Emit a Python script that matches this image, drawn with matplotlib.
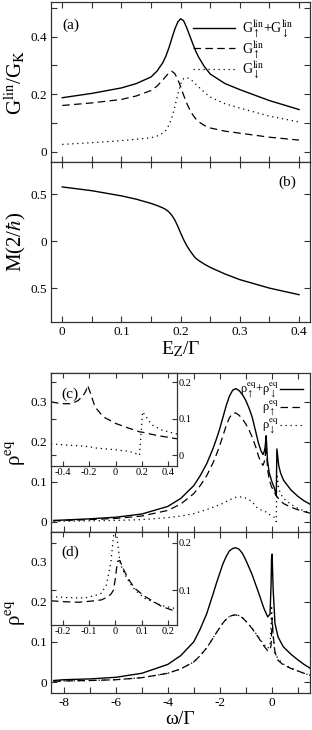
import matplotlib.pyplot as plt
from matplotlib.ticker import MultipleLocator

plt.rcParams['font.family'] = ['Liberation Serif', 'DejaVu Serif']
plt.rcParams['mathtext.fontset'] = 'stix'
plt.rcParams['axes.unicode_minus'] = False

# ---- panel (a): linear conductance vs Zeeman energy ----
E_A = [0, 0.05, 0.1, 0.125, 0.15, 0.16, 0.17, 0.175, 0.18, 0.185, 0.19, 0.195, 0.2,
       0.205, 0.21, 0.215, 0.22, 0.225, 0.23, 0.24, 0.25, 0.275, 0.3, 0.35, 0.4]
G_TOT = [0.188, 0.203, 0.222, 0.237, 0.26, 0.28, 0.31, 0.332, 0.36, 0.393, 0.425, 0.45,
         0.462, 0.455, 0.432, 0.405, 0.378, 0.352, 0.33, 0.296, 0.27, 0.237, 0.216,
         0.178, 0.147]
G_UP = [0.161, 0.17, 0.182, 0.194, 0.213, 0.228, 0.25, 0.262, 0.274, 0.28, 0.272, 0.252,
        0.226, 0.197, 0.17, 0.148, 0.13, 0.116, 0.105, 0.092, 0.083, 0.072, 0.065,
        0.051, 0.041]
G_DN = [0.026, 0.032, 0.039, 0.044, 0.049, 0.055, 0.065, 0.075, 0.092, 0.118, 0.155,
        0.198, 0.236, 0.254, 0.258, 0.254, 0.246, 0.236, 0.226, 0.207, 0.19, 0.167,
        0.152, 0.124, 0.104]

# ---- panel (b): magnetisation ----
E_B = [0, 0.05, 0.1, 0.125, 0.15, 0.16, 0.17, 0.175, 0.18, 0.185, 0.19, 0.195, 0.2,
       0.205, 0.21, 0.215, 0.22, 0.225, 0.23, 0.24, 0.25, 0.275, 0.3, 0.35, 0.4]
M = [0.575, 0.535, 0.48, 0.445, 0.40, 0.378, 0.352, 0.335, 0.31, 0.275, 0.225, 0.16,
     0.085, 0.015, -0.045, -0.095, -0.14, -0.18, -0.205, -0.245, -0.28, -0.35, -0.41,
     -0.5, -0.57]

# ---- panel (c): spectral density, E_Z = 0.2 ----
W_C = [-8.4, -8, -7, -6, -5, -4, -3.5, -3, -2.75, -2.5, -2.25, -2.125, -2, -1.875,
       -1.75, -1.625, -1.5, -1.375, -1.25, -1.125, -1, -0.875, -0.75, -0.6, -0.5, -0.4,
       -0.33, -0.28, -0.245, -0.212, -0.194, -0.156, -0.093, 0, 0.1, 0.16, 0.18, 0.204,
       0.275, 0.35, 0.465, 0.75, 1.0, 1.25, 1.5]
RHO_C_UP = [0.002, 0.003, 0.005, 0.008, 0.014, 0.028, 0.044, 0.07, 0.09, 0.115, 0.148,
            0.168, 0.19, 0.215, 0.24, 0.26, 0.271, 0.272, 0.266, 0.257, 0.245, 0.23,
            0.212, 0.185, 0.163, 0.147, 0.141, 0.150, 0.164, 0.191, 0.173, 0.132, 0.105,
            0.087, 0.074, 0.067, 0.065, 0.063, 0.057, 0.052, 0.045, 0.036, 0.030, 0.025,
            0.021]
RHO_C_DN = [0.001, 0.001, 0.002, 0.003, 0.005, 0.01, 0.014, 0.02, 0.025, 0.03, 0.036,
            0.039, 0.042, 0.046, 0.05, 0.054, 0.058, 0.061, 0.062, 0.061, 0.059, 0.055,
            0.05, 0.037, 0.032, 0.029, 0.027, 0.026, 0.025, 0.024, 0.023, 0.02, 0.018,
            0.015, 0.011, 0.004, 0.0, 0.119, 0.083, 0.069, 0.058, 0.043, 0.034, 0.027,
            0.022]
RHO_C_TOT = [0.003, 0.004, 0.007, 0.011, 0.019, 0.038, 0.058, 0.09, 0.115, 0.145, 0.184,
             0.207, 0.232, 0.261, 0.29, 0.314, 0.329, 0.333, 0.328, 0.318, 0.304, 0.285,
             0.262, 0.222, 0.195, 0.176, 0.168, 0.176, 0.189, 0.215, 0.196, 0.152, 0.123,
             0.102, 0.085, 0.071, 0.065, 0.182, 0.14, 0.121, 0.103, 0.079, 0.064, 0.052,
             0.043]

# inset (c)
W_CI = [-0.49, -0.41, -0.333, -0.283, -0.245, -0.225, -0.212, -0.194, -0.156, -0.093,
        0, 0.1, 0.16, 0.181, 0.204, 0.275, 0.35, 0.465]
RHO_CI_UP = [0.146, 0.141, 0.141, 0.150, 0.164, 0.176, 0.191, 0.173, 0.132, 0.105,
             0.087, 0.074, 0.067, 0.064, 0.063, 0.057, 0.052, 0.045]
RHO_CI_DN = [0.031, 0.029, 0.027, 0.026, 0.025, 0.024, 0.024, 0.023, 0.020, 0.018,
             0.015, 0.011, 0.004, 0.0, 0.119, 0.083, 0.069, 0.058]

# ---- panel (d): spectral density, E_Z = 0 ----
W_D = [-8.4, -8, -7, -6, -5, -4, -3.5, -3, -2.75, -2.5, -2.25, -2.125, -2, -1.875,
       -1.75, -1.625, -1.5, -1.375, -1.25, -1.125, -1, -0.875, -0.75, -0.5, -0.3, -0.15,
       -0.06, -0.02, 0, 0.02, 0.06, 0.13, 0.25, 0.45, 0.75, 1.0, 1.25, 1.5]
RHO_D_UP = [0.002, 0.003, 0.004, 0.006, 0.011, 0.022, 0.033, 0.05, 0.066, 0.085, 0.11,
            0.123, 0.135, 0.147, 0.156, 0.163, 0.166, 0.167, 0.165, 0.16, 0.152, 0.143,
            0.133, 0.11, 0.09, 0.078, 0.079, 0.092, 0.122, 0.158, 0.118, 0.074, 0.054,
            0.043, 0.034, 0.028, 0.022, 0.017]
RHO_D_DN = [0.002, 0.003, 0.004, 0.006, 0.011, 0.022, 0.033, 0.05, 0.066, 0.085, 0.11,
            0.123, 0.135, 0.147, 0.156, 0.163, 0.166, 0.167, 0.165, 0.16, 0.152, 0.143,
            0.134, 0.112, 0.094, 0.084, 0.09, 0.15, 0.19, 0.16, 0.113, 0.072, 0.058,
            0.045, 0.035, 0.028, 0.022, 0.017]
RHO_D_TOT = [0.004, 0.006, 0.008, 0.012, 0.022, 0.044, 0.066, 0.1, 0.132, 0.17, 0.22,
             0.246, 0.27, 0.294, 0.312, 0.326, 0.332, 0.334, 0.33, 0.32, 0.304, 0.286,
             0.267, 0.222, 0.184, 0.162, 0.169, 0.242, 0.312, 0.318, 0.231, 0.146, 0.112,
             0.088, 0.069, 0.056, 0.044, 0.034]

# inset (d)
W_DI = [-0.245, -0.192, -0.141, -0.116, -0.065, -0.053, -0.034, -0.017, -0.008, 0.0,
        0.004, 0.008, 0.017, 0.023, 0.036, 0.055, 0.074, 0.112, 0.125, 0.176, 0.233]
RHO_DI_DN = [0.087, 0.085, 0.084, 0.084, 0.091, 0.094, 0.112, 0.161, 0.211, 0.25,
             0.23, 0.2, 0.161, 0.15, 0.133, 0.115, 0.101, 0.083, 0.080, 0.068, 0.061]
RHO_DI_UP = [0.078, 0.076, 0.075, 0.076, 0.079, 0.080, 0.085, 0.092, 0.1, 0.126,
             0.145, 0.161, 0.163, 0.154, 0.138, 0.119, 0.104, 0.087, 0.083, 0.066, 0.055]

W, H = 312, 730
fig = plt.figure(figsize=(W / 100, H / 100), dpi=100)

SOLID = dict(color='k', lw=1.0, ls='-')
DASH = dict(color='k', lw=0.9, ls=(0, (6, 3.5)))
DOT = dict(color='k', lw=0.9, ls=(0, (1, 3)))
EDGE = '#333333'


def rect(l, t, r, b):
    return [l / W, 1 - b / H, (r - l) / W, (b - t) / H]


def style(ax, size=9.5, length=4.5):
    ax.tick_params(which='both', direction='in', top=True, right=True,
                   labelsize=size, width=0.8, color=EDGE, length=length, pad=3)
    for s in ax.spines.values():
        s.set_linewidth(0.9)
        s.set_color(EDGE)


# (a)
ax_a = fig.add_axes(rect(51, 2, 310, 162))
ax_a.plot(E_A, G_TOT, **SOLID,
          label=r'G$_\uparrow^{\rm lin}$+G$_\downarrow^{\rm lin}$')
ax_a.plot(E_A, G_UP, **DASH, label=r'G$_\uparrow^{\rm lin}$')
ax_a.plot(E_A, G_DN, **DOT, label=r'G$_\downarrow^{\rm lin}$')
ax_a.set_xlim(-0.019, 0.4185)
ax_a.set_ylim(-0.035, 0.52)
ax_a.xaxis.set_major_locator(MultipleLocator(0.05))
ax_a.set_yticks([0, 0.2, 0.4], ['0', '0.2', '0.4'])
ax_a.yaxis.set_minor_locator(MultipleLocator(0.1))
ax_a.tick_params(labelbottom=False)
style(ax_a)
ax_a.set_ylabel(r'G$^{\rm lin}$/G$_{\rm K}$', fontsize=15)
ax_a.yaxis.set_label_coords(-0.09, 0.5)
ax_a.text(0.045, 0.856, '(a)', transform=ax_a.transAxes, fontsize=11, va='center')
ax_a.legend(loc='upper right', frameon=False, fontsize=10, handlelength=3.0,
            handletextpad=0.5, labelspacing=-0.02, borderaxespad=0.8)

# (b)
ax_b = fig.add_axes(rect(51, 162, 310, 322))
ax_b.plot(E_B, M, **SOLID)
ax_b.set_xlim(-0.019, 0.4185)
ax_b.set_ylim(-0.86, 0.84)
ax_b.set_xticks([0, 0.1, 0.2, 0.3, 0.4], ['0', '0.1', '0.2', '0.3', '0.4'])
ax_b.xaxis.set_minor_locator(MultipleLocator(0.05))
ax_b.set_yticks([-0.5, 0, 0.5], ['0.5', '0', '0.5'])
style(ax_b)
ax_b.set_ylabel(r'M(2/$\hbar$)', fontsize=15)
ax_b.yaxis.set_label_coords(-0.09, 0.5)
ax_b.set_xlabel(r'E$_{\rm Z}$/Γ', fontsize=14, labelpad=1)
ax_b.text(0.876, 0.875, '(b)', transform=ax_b.transAxes, fontsize=11, va='center')

# (c)
ax_c = fig.add_axes(rect(51, 373, 310, 532))
ax_c.plot(W_C, RHO_C_TOT, **SOLID,
          label=r'ρ$_\uparrow^{\rm eq}$+ρ$_\downarrow^{\rm eq}$')
ax_c.plot(W_C, RHO_C_UP, **DASH, label=r'ρ$_\uparrow^{\rm eq}$')
ax_c.plot(W_C, RHO_C_DN, **DOT, label=r'ρ$_\downarrow^{\rm eq}$')
ax_c.set_xlim(-8.5, 1.48)
ax_c.set_ylim(-0.026, 0.372)
ax_c.set_xticks([-8, -6, -4, -2, 0])
ax_c.xaxis.set_minor_locator(MultipleLocator(1))
ax_c.set_yticks([0, 0.1, 0.2, 0.3], ['0', '0.1', '0.2', '0.3'])
ax_c.tick_params(labelbottom=False)
style(ax_c)
ax_c.set_ylabel(r'ρ$^{\rm eq}$', fontsize=15)
ax_c.yaxis.set_label_coords(-0.09, 0.5)
ax_c.legend(loc='upper right', frameon=False, fontsize=9, markerfirst=False,
            handlelength=1.8, handletextpad=0.1, labelspacing=-0.1,
            borderaxespad=0.2)

ins_c = fig.add_axes(rect(51, 373, 177, 465.5))
ins_c.plot(W_CI, RHO_CI_UP, **DASH)
ins_c.plot(W_CI, RHO_CI_DN, **DOT)
ins_c.set_xlim(-0.49, 0.465)
ins_c.set_ylim(-0.028, 0.225)
ins_c.set_xticks([-0.4, -0.2, 0, 0.2, 0.4], ['-0.4', '-0.2', '0', '0.2', '0.4'])
ins_c.set_yticks([0, 0.1, 0.2], ['0', '0.1', '0.2'])
style(ins_c, size=7.5, length=3.5)
ins_c.tick_params(labelleft=False, labelright=True, pad=1.5)
ins_c.text(0.085, 0.773, '(c)', transform=ins_c.transAxes, fontsize=11, va='center')

# (d)
ax_d = fig.add_axes(rect(51, 532, 310, 693))
ax_d.plot(W_D, RHO_D_TOT, **SOLID)
ax_d.plot(W_D, RHO_D_UP, **DASH)
ax_d.plot(W_D, RHO_D_DN, **DOT)
ax_d.set_xlim(-8.5, 1.48)
ax_d.set_ylim(-0.027, 0.373)
ax_d.set_xticks([-8, -6, -4, -2, 0], ['-8', '-6', '-4', '-2', '0'])
ax_d.xaxis.set_minor_locator(MultipleLocator(1))
ax_d.set_yticks([0, 0.1, 0.2, 0.3], ['0', '0.1', '0.2', '0.3'])
style(ax_d)
ax_d.set_ylabel(r'ρ$^{\rm eq}$', fontsize=15)
ax_d.yaxis.set_label_coords(-0.09, 0.5)
ax_d.set_xlabel('ω/Γ', fontsize=14, labelpad=1)

ins_d = fig.add_axes(rect(51, 532, 177, 625))
ins_d.plot(W_DI, RHO_DI_UP, **DASH)
ins_d.plot(W_DI, RHO_DI_DN, **DOT)
ins_d.set_xlim(-0.245, 0.234)
ins_d.set_ylim(0.027, 0.223)
ins_d.set_xticks([-0.2, -0.1, 0, 0.1, 0.2], ['-0.2', '-0.1', '0', '0.1', '0.2'])
ins_d.set_yticks([0.1, 0.2], ['0.1', '0.2'])
style(ins_d, size=7.5, length=3.5)
ins_d.tick_params(labelleft=False, labelright=True, pad=1.5)
ins_d.text(0.085, 0.785, '(d)', transform=ins_d.transAxes, fontsize=11, va='center')

fig.savefig('out.png', dpi=100)
